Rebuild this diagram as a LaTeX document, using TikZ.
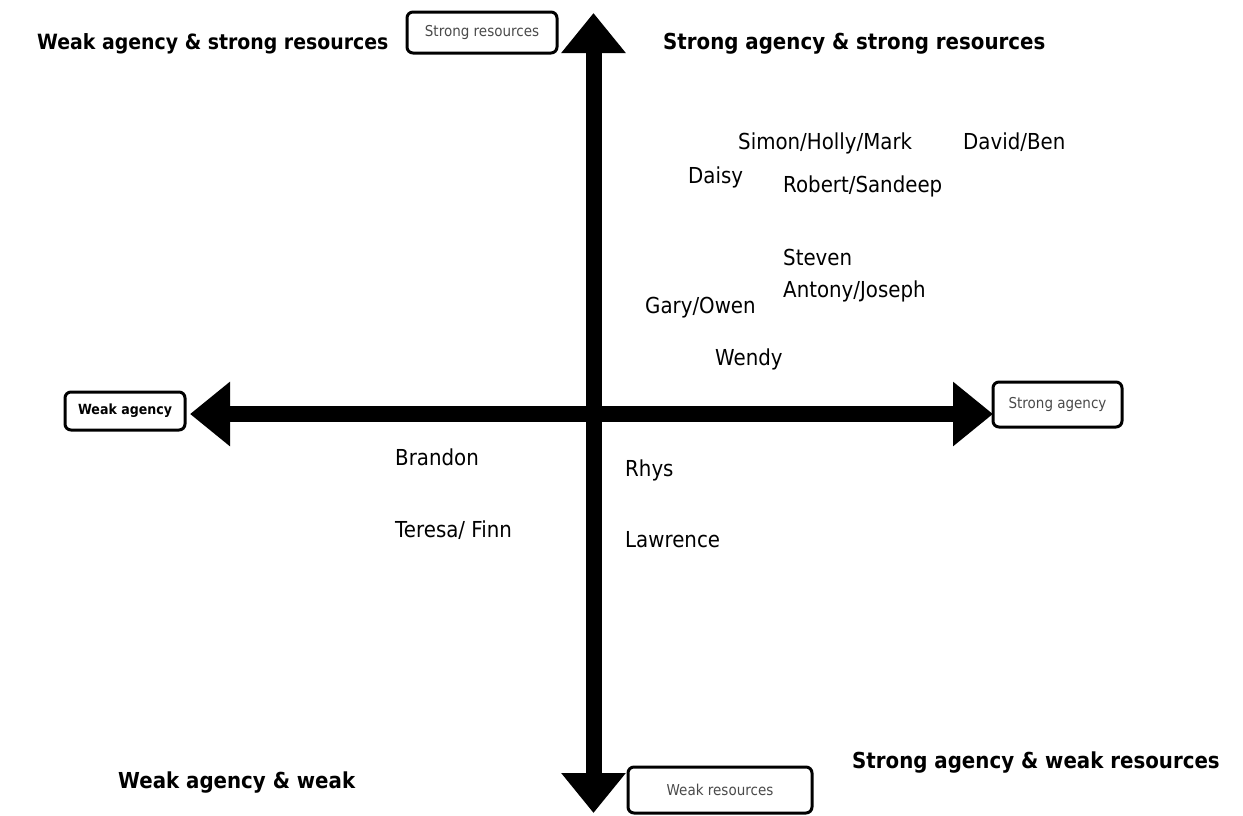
\documentclass[tikz,border=0pt]{standalone}
\usepackage{fontspec}
\setmainfont{DejaVu Sans}[FakeStretch=0.9]
\usetikzlibrary{arrows.meta}
\definecolor{boxtext}{HTML}{4A4A4A}
\begin{document}
\begin{tikzpicture}[x=1pt,y=-1pt,
  axis/.style={line width=16pt,
    {Triangle[length=40pt,width=62pt]}-{Triangle[length=40pt,width=62pt]}},
  person/.style={anchor=base west,inner sep=0pt,font=\fontsize{22}{26}\selectfont},
  quad/.style={anchor=base west,inner sep=0pt,font=\fontsize{22}{26}\selectfont\bfseries},
  pole/.style={draw,line width=3pt,rounded corners=6pt,inner sep=0pt,
    text=boxtext,font=\fontsize{15}{18}\selectfont}]
\useasboundingbox (0,0) rectangle (1243,815);

% axes
\coordinate (rtop) at (593.5,13);
\coordinate (rbot) at (593.5,813);
\coordinate (aleft) at (190,414);
\coordinate (aright) at (993,414);
\draw[axis] (rbot) -- (rtop);
\draw[axis] (aleft) -- (aright);

% pole labels
\node[pole,minimum width=150pt,minimum height=41pt] (sres) at (482,32.5) {Strong resources};
\node[pole,minimum width=120pt,minimum height=38pt,text=black,font=\fontsize{14}{16}\selectfont\bfseries] (wag) at (125,411) {Weak agency};
\node[pole,minimum width=129pt,minimum height=45pt] (sag) at (1057.5,404.5) {Strong agency};
\node[pole,minimum width=184pt,minimum height=46pt] (wres) at (720,790) {Weak resources};

% quadrant titles
\node[quad,font=\fontsize{21}{25}\selectfont\bfseries] (q1) at (37,49) {Weak agency \& strong resources};
\node[quad] (q2) at (663,49) {Strong agency \& strong resources};
\node[quad] (q3) at (852,768) {Strong agency \& weak resources};
\node[quad] (q4) at (118,788) {Weak agency \& weak};

% participants
\node[person] (n1) at (738,149) {Simon/Holly/Mark};
\node[person] (n2) at (963,149) {David/Ben};
\node[person] (n3) at (688,183) {Daisy};
\node[person] (n4) at (783,192) {Robert/Sandeep};
\node[person] (n5) at (783,265) {Steven};
\node[person] (n6) at (783,297) {Antony/Joseph};
\node[person] (n7) at (645,313) {Gary/Owen};
\node[person] (n8) at (715,365) {Wendy};
\node[person] (n9) at (395,465) {Brandon};
\node[person] (n10) at (625,476) {Rhys};
\node[person] (n11) at (395,537) {Teresa/ Finn};
\node[person] (n12) at (625,547) {Lawrence};
\end{tikzpicture}
\end{document}
